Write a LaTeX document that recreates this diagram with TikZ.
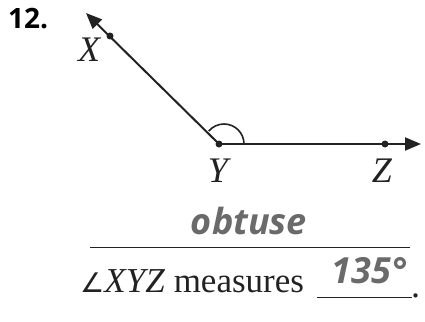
\documentclass[tikz,border=0pt]{standalone}
\usepackage{fontspec}
\setmainfont{Liberation Serif}
\newfontfamily\answerfont{Open Sans}
\newfontfamily\numfont{Open Sans}
\newfontfamily\symfont{DejaVu Sans}
\usetikzlibrary{arrows.meta}
\definecolor{ink}{HTML}{222222}
\definecolor{ansgray}{HTML}{6A6A6A}
\tikzset{
  ray/.style={line width=2pt, draw=ink, -{Triangle[length=16pt,width=13pt]}},
  ptdot/.style={fill=ink, circle, inner sep=0pt, minimum size=7pt},
  lbl/.style={font=\fontsize{36}{42}\selectfont\itshape, text=ink, inner sep=0pt},
  answer/.style={font=\answerfont\fontsize{36}{42}\selectfont\bfseries\itshape, text=ansgray, inner sep=0pt},
  rule/.style={line width=1pt, draw=ink}
}
\begin{document}
\begin{tikzpicture}[x=1pt,y=-1pt]
\useasboundingbox (0,0) rectangle (425,321);
% problem number
\node[anchor=base west, inner sep=0pt, font=\numfont\fontsize{28}{32}\selectfont\bfseries] (num) at (8,29) {12.};
% points
\coordinate (Y) at (219,144);
\coordinate (Xtip) at (86,13);
\coordinate (Ztip) at (421,144);
\node[ptdot] (X) at (110,36) {};
\node[ptdot] (Yd) at (219,144) {};
\node[ptdot] (Z) at (385,144) {};
% rays
\draw[ray] (Y) -- (Xtip);
\draw[ray] (Y) -- (Ztip);
% angle arc
\draw[line width=1.6pt, draw=ink] (244,144) arc[start angle=0, end angle=-140, radius=20];
% labels
\node[lbl] (Xl) at (89,50) {X};
\node[lbl] (Yl) at (218,171) {Y};
\node[lbl] (Zl) at (382,171) {Z};
% answer 1
\node[answer, anchor=base] (obt) at (249,234) {obtuse};
\coordinate (r1a) at (90,247);
\coordinate (r1b) at (410,247);
\draw[rule] (r1a) -- (r1b);
% statement
\node[anchor=base west, inner sep=0pt, font=\fontsize{35}{42}\selectfont, text=ink] (stmt) at (80,292) {{\symfont\fontsize{27}{32}\selectfont ∠}\textit{XYZ} measures};
\coordinate (r2a) at (317,297);
\coordinate (r2b) at (412,297);
\draw[rule] (r2a) -- (r2b);
\node[anchor=base west, inner sep=0pt, font=\fontsize{36}{42}\selectfont, text=ink] (dot) at (411,297) {.};
\node[answer, anchor=base] (deg) at (369,283) {135°};
\end{tikzpicture}
\end{document}
